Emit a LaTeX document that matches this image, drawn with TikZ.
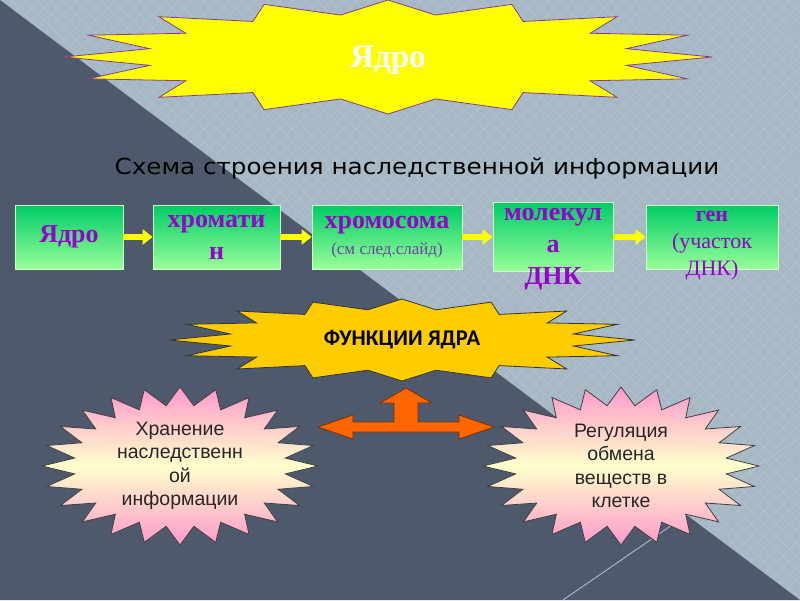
\documentclass[tikz,border=0pt]{standalone}
\usepackage{fontspec}
\setmainfont{Liberation Serif}
\newfontfamily\titlefont[FakeStretch=1.12]{DejaVu Sans}
\newfontfamily\calfont{Carlito}
\newfontfamily\arialfont{Liberation Sans}
\usetikzlibrary{shapes,arrows.meta,positioning,patterns.meta}

\definecolor{bglight}{HTML}{A6B8C4}
\definecolor{bgdark}{HTML}{4E5A6B}
\definecolor{bgline}{HTML}{B4C4CF}
\definecolor{burstyellow}{HTML}{FFFF00}
\definecolor{burstedge}{HTML}{8B3A8B}
\definecolor{functiongold}{HTML}{FFCC00}
\definecolor{burstpink}{HTML}{FF99CC}
\definecolor{burstcream}{HTML}{FFFFCC}
\definecolor{blocktop}{HTML}{00CC66}
\definecolor{blockbottom}{HTML}{99FF99}
\definecolor{blockedge}{HTML}{CCFFCC}
\definecolor{chainpurple}{HTML}{9900CC}
\definecolor{notepurple}{HTML}{7040A8}
\definecolor{arrowyellow}{HTML}{FFFF00}
\definecolor{forkorange}{HTML}{FF6600}
\definecolor{forkedge}{HTML}{7A3000}

\begin{document}
\begin{tikzpicture}[
    x=1pt, y=-1pt,
    % Star styles
    burst/.style={
        star,
        star point ratio=1.333,
        inner sep=0pt,
        line width=0.8pt
    },
    kernelburst/.style={burst, star points=16, fill=burstyellow, draw=burstedge},
    functionburst/.style={burst, star points=16, fill=functiongold, draw=black!80},
    roleburst/.style={
        burst,
        star points=24,
        star point ratio=1.3,
        draw=black!75,
        top color=burstpink,
        bottom color=burstpink,
        middle color=burstcream
    },
    % Block styles
    chainblock/.style={
        rectangle,
        draw=blockedge,
        line width=0.8pt,
        top color=blocktop,
        bottom color=blockbottom,
        minimum height=64pt,
        inner xsep=0pt,
        inner ysep=-18pt,
        align=center,
        text=chainpurple,
        font=\bfseries\fontsize{26}{32}\selectfont
    },
    roletext/.style={
        align=center,
        text=black!85,
        font=\arialfont\fontsize{19.5}{23.5}\selectfont
    },
    chainarrow/.style={draw=arrowyellow, line width=6pt, -{Triangle[length=10pt,width=15pt]}},
    forkarrow/.style={draw=forkedge, fill=forkorange, line width=0.8pt, line join=miter}
]
\useasboundingbox (0,0) rectangle (800,600);

% Background
\fill[bglight] (0,0) rectangle (800,600);
\fill[pattern={Lines[angle=45,distance=9pt,line width=0.5pt]}, pattern color=bgline] (0,0) -- (800,0) -- (800,600) -- cycle;
\fill[pattern={Lines[angle=-45,distance=9pt,line width=0.5pt]}, pattern color=bgline] (0,0) -- (800,0) -- (800,600) -- cycle;
\fill[bgdark] (0,0) -- (800,600) -- (0,600) -- cycle;
\draw[bgline, line width=0.8pt] (563,600) -- (800,437);

% Title star
\node[kernelburst, minimum size=114pt, xscale=5.684] (kernelstar) at (388,57) {};
\node[text=white, font=\bfseries\fontsize{33}{36}\selectfont] (kerneltitle) at (388,60) {Ядро};

\node[font=\titlefont\fontsize{22}{26}\selectfont] (schemetitle) at (417,168) {Схема строения наследственной информации};

% Chain of blocks
\node[chainblock, minimum width=108pt] (nucleus) at (69,237) {Ядро};
\node[chainblock, minimum width=127pt] (chromatin) at (216.5,237) {хромати\\н};
\node[chainblock, minimum width=150pt] (chromosome) at (387,237) {хромосома\\[-6pt]{\mdseries\fontsize{17}{20}\selectfont\color{notepurple}(см след.слайд)}};
\node[chainblock, minimum width=120pt] (dnamolecule) at (553,237) {\rule{0pt}{36pt}молекул\\а\\ДНК};
\node[chainblock, minimum width=132pt, font=\fontsize{22}{27}\selectfont] (gene) at (712,237) {\rule{0pt}{28pt}{\bfseries ген}\\(участок\\ДНК)};

\draw[chainarrow] (nucleus) -- (chromatin);
\draw[chainarrow] (chromatin) -- (chromosome);
\draw[chainarrow] (chromosome) -- (dnamolecule);
\draw[chainarrow] (dnamolecule) -- (gene);

% Functions
\node[functionburst, minimum size=82pt, xscale=5.683] (functionstar) at (402,340) {};
\node[font=\calfont\bfseries\fontsize{22.5}{26}\selectfont] (functiontitle) at (functionstar.center) {ФУНКЦИИ ЯДРА};

\coordinate (fork) at (406,427);
\draw[forkarrow, shift={(fork)}] (-88,0) -- (-53,-12) -- (-53,-5) -- (-12,-5) -- (-12,-24) -- (-26,-24)
    -- (0,-39) -- (26,-24) -- (12,-24) -- (12,-5) -- (53,-5) -- (53,-12) -- (88,0)
    -- (53,12) -- (53,5) -- (-53,5) -- (-53,12) -- cycle;

\node[roleburst, minimum size=158pt, xscale=1.747] (storagestar) at (180,466) {};
\node[roletext] (storagetext) at (storagestar.center) {Хранение\\наследственн\\ой\\информации};

\node[roleburst, minimum size=158pt, xscale=1.747] (regulationstar) at (621,466) {};
\node[roletext] (regulationtext) at (regulationstar.center) {Регуляция\\обмена\\веществ в\\клетке};

\end{tikzpicture}
\end{document}
